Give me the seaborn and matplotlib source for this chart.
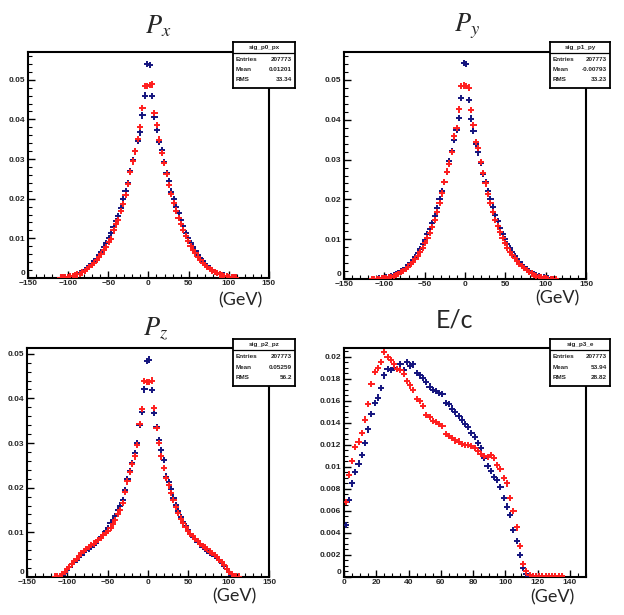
import numpy as np
import pandas as pd
import matplotlib
matplotlib.use("Agg")
import matplotlib.pyplot as plt
import seaborn as sns
from matplotlib.ticker import MultipleLocator, FuncFormatter

# ---- data (normalised histogram contents) ----
# momentum panels: 3 GeV bins, left half ends at -1.5, right half starts at +1.5
px_blue_left = [0.0001, 0.0001, 0.0002, 0.0003, 0.0004, 0.0005, 0.0007, 0.0009, 0.0012, 0.0015,
                0.0019, 0.0024, 0.0029, 0.0035, 0.0042, 0.0049, 0.0057, 0.0066, 0.0077, 0.0088,
                0.0100, 0.0113, 0.0128, 0.0143, 0.0157, 0.0176, 0.0200, 0.0220, 0.0240, 0.0270,
                0.0298, 0.0319, 0.0345, 0.0367, 0.0410, 0.0460, 0.0540]
px_blue_right = [0.0538, 0.0458, 0.0405, 0.0374, 0.0343, 0.0322, 0.0293, 0.0265, 0.0244, 0.0218,
                 0.0198, 0.0178, 0.0164, 0.0146, 0.0130, 0.0114, 0.0101, 0.0089, 0.0078, 0.0068,
                 0.0058, 0.0050, 0.0043, 0.0036, 0.0030, 0.0025, 0.0020, 0.0016, 0.0013, 0.0010,
                 0.0008, 0.0006, 0.0004, 0.0003, 0.0002, 0.0001, 0.0001]
px_red_left = [0.0001, 0.0001, 0.0002, 0.0003, 0.0004, 0.0005, 0.0007, 0.0009, 0.0011, 0.0014,
               0.0018, 0.0022, 0.0027, 0.0032, 0.0038, 0.0045, 0.0052, 0.0060, 0.0070, 0.0079,
               0.0090, 0.0098, 0.0120, 0.0135, 0.0147, 0.0168, 0.0187, 0.0210, 0.0237, 0.0267,
               0.0294, 0.0319, 0.0350, 0.0380, 0.0429, 0.0485, 0.0485]
px_red_right = [0.0487, 0.0488, 0.0416, 0.0385, 0.0349, 0.0315, 0.0290, 0.0262, 0.0235, 0.0212,
                0.0190, 0.0170, 0.0152, 0.0136, 0.0121, 0.0106, 0.0093, 0.0081, 0.0071, 0.0062,
                0.0053, 0.0046, 0.0039, 0.0033, 0.0028, 0.0023, 0.0019, 0.0015, 0.0012, 0.0009,
                0.0007, 0.0005, 0.0004, 0.0003, 0.0002, 0.0001, 0.0001]

py_blue_left = [0.0001, 0.0002, 0.0002, 0.0003, 0.0004, 0.0006, 0.0007, 0.0009, 0.0012, 0.0015,
                0.0019, 0.0023, 0.0028, 0.0034, 0.0041, 0.0048, 0.0056, 0.0065, 0.0076, 0.0087,
                0.0099, 0.0112, 0.0126, 0.0141, 0.0158, 0.0178, 0.0200, 0.0222, 0.0243, 0.0268,
                0.0296, 0.0322, 0.0350, 0.0375, 0.0404, 0.0454, 0.0542]
py_blue_right = [0.0540, 0.0450, 0.0403, 0.0372, 0.0340, 0.0318, 0.0292, 0.0264, 0.0243, 0.0220,
                 0.0200, 0.0180, 0.0162, 0.0145, 0.0128, 0.0113, 0.0100, 0.0088, 0.0077, 0.0067,
                 0.0058, 0.0050, 0.0043, 0.0036, 0.0030, 0.0025, 0.0020, 0.0016, 0.0013, 0.0010,
                 0.0008, 0.0006, 0.0004, 0.0003, 0.0002, 0.0001, 0.0001]
py_red_left = [0.0001, 0.0000, 0.0001, 0.0001, 0.0002, 0.0002, 0.0003, 0.0005, 0.0006, 0.0008,
               0.0010, 0.0013, 0.0017, 0.0021, 0.0026, 0.0031, 0.0037, 0.0044, 0.0051, 0.0059,
               0.0068, 0.0078, 0.0090, 0.0102, 0.0116, 0.0131, 0.0148, 0.0168, 0.0190, 0.0215,
               0.0243, 0.0270, 0.0290, 0.0320, 0.0358, 0.0380, 0.0426, 0.0485, 0.0486]
py_red_right = [0.0484, 0.0481, 0.0424, 0.0386, 0.0345, 0.0330, 0.0293, 0.0266, 0.0240, 0.0213,
                0.0190, 0.0168, 0.0149, 0.0132, 0.0117, 0.0103, 0.0090, 0.0079, 0.0069, 0.0060,
                0.0052, 0.0045, 0.0038, 0.0032, 0.0027, 0.0022, 0.0018, 0.0014, 0.0011, 0.0008,
                0.0006, 0.0004, 0.0003, 0.0002, 0.0001, 0.0001, 0.0000, 0.0000]

pz_blue_left = [0.0001, 0.0004, 0.0010, 0.0016, 0.0022, 0.0028, 0.0034, 0.0039, 0.0044, 0.0050,
                0.0055, 0.0060, 0.0064, 0.0068, 0.0072, 0.0077, 0.0083, 0.0089, 0.0095, 0.0102,
                0.0110, 0.0120, 0.0127, 0.0136, 0.0150, 0.0160, 0.0172, 0.0195, 0.0220, 0.0238,
                0.0256, 0.0278, 0.0300, 0.0340, 0.0370, 0.0420, 0.0483]
pz_blue_right = [0.0487, 0.0418, 0.0368, 0.0335, 0.0307, 0.0285, 0.0262, 0.0225, 0.0213, 0.0196,
                 0.0178, 0.0162, 0.0148, 0.0135, 0.0124, 0.0114, 0.0105, 0.0097, 0.0090, 0.0084,
                 0.0078, 0.0073, 0.0068, 0.0064, 0.0059, 0.0054, 0.0052, 0.0048, 0.0043, 0.0038,
                 0.0031, 0.0025, 0.0018, 0.0011, 0.0005, 0.0001]
pz_red_left = [0.0001, 0.0001, 0.0003, 0.0006, 0.0011, 0.0017, 0.0023, 0.0029, 0.0035, 0.0041,
               0.0047, 0.0053, 0.0058, 0.0063, 0.0067, 0.0071, 0.0075, 0.0079, 0.0083, 0.0088,
               0.0093, 0.0098, 0.0104, 0.0110, 0.0118, 0.0128, 0.0142, 0.0150, 0.0165, 0.0190,
               0.0214, 0.0235, 0.0253, 0.0270, 0.0296, 0.0342, 0.0377, 0.0439, 0.0437]
pz_red_right = [0.0436, 0.0440, 0.0378, 0.0334, 0.0300, 0.0270, 0.0245, 0.0222, 0.0205, 0.0188,
                0.0172, 0.0156, 0.0143, 0.0131, 0.0121, 0.0112, 0.0104, 0.0097, 0.0091, 0.0085,
                0.0080, 0.0075, 0.0070, 0.0066, 0.0062, 0.0057, 0.0053, 0.0049, 0.0044, 0.0039,
                0.0033, 0.0026, 0.0019, 0.0012, 0.0006, 0.0002, 0.0001, 0.0001]

# energy panel: 2 GeV bins starting at 0
e_blue = [0.0047, 0.0070, 0.0085, 0.0095, 0.0103, 0.0111, 0.0122, 0.0134, 0.0148, 0.0158,
          0.0163, 0.0172, 0.0183, 0.0189, 0.0188, 0.0190, 0.0189, 0.0193, 0.0188, 0.0195,
          0.0192, 0.0193, 0.0185, 0.0183, 0.0181, 0.0177, 0.0173, 0.0170, 0.0169, 0.0167,
          0.0166, 0.0158, 0.0157, 0.0153, 0.0150, 0.0146, 0.0143, 0.0139, 0.0136, 0.0131,
          0.0127, 0.0122, 0.0117, 0.0108, 0.0101, 0.0096, 0.0091, 0.0088, 0.0082, 0.0072,
          0.0064, 0.0056, 0.0043, 0.0033, 0.0020, 0.0008, 0.0003, 0.0001, 0.0001, 0.0001,
          0.0001, 0.0001]
e_red = [0.0068, 0.0093, 0.0105, 0.0118, 0.0123, 0.0131, 0.0143, 0.0157, 0.0175, 0.0186,
         0.0190, 0.0195, 0.0204, 0.0200, 0.0197, 0.0193, 0.0189, 0.0188, 0.0184, 0.0178,
         0.0174, 0.0170, 0.0162, 0.0160, 0.0155, 0.0147, 0.0145, 0.0142, 0.0141, 0.0139,
         0.0137, 0.0130, 0.0128, 0.0126, 0.0124, 0.0123, 0.0121, 0.0120, 0.0120, 0.0119,
         0.0117, 0.0114, 0.0112, 0.0110, 0.0109, 0.0111, 0.0108, 0.0102, 0.0098, 0.0090,
         0.0085, 0.0072, 0.0060, 0.0045, 0.0028, 0.0012, 0.0005, 0.0002, 0.0001, 0.0001,
         0.0001, 0.0001, 0.0001, 0.0001, 0.0001, 0.0001, 0.0001, 0.0001]

titles = [r"$P_x$", r"$P_y$", r"$P_z$", "E/c"]
stat_names = ["sig_p0_px", "sig_p1_py", "sig_p2_pz", "sig_p3_e"]
stat_entries = ["207773", "207773", "207773", "207773"]
stat_means = ["0.01201", "-0.00793", "0.05259", "53.94"]
stat_rms = ["33.34", "33.23", "56.2", "28.82"]

BLUE = "#14147e"
RED = "#ff1e1e"


def sym_frame(left, right, width=3.0):
    xl = -width / 2 - width * np.arange(len(left))[::-1]
    xr = width / 2 + width * np.arange(len(right))
    return np.concatenate([xl, xr]), np.array(left + right)


def make_df(blue, red):
    rows = []
    for name, (x, y) in (("blue", blue), ("red", red)):
        rows.append(pd.DataFrame({"x": x, "y": y, "s": name}))
    return pd.concat(rows, ignore_index=True)


e_x_blue = 1.0 + 2.0 * np.arange(len(e_blue))
e_x_red = 1.0 + 2.0 * np.arange(len(e_red))

panels = [
    make_df(sym_frame(px_blue_left, px_blue_right), sym_frame(px_red_left, px_red_right)),
    make_df(sym_frame(py_blue_left, py_blue_right), sym_frame(py_red_left, py_red_right)),
    make_df(sym_frame(pz_blue_left, pz_blue_right), sym_frame(pz_red_left, pz_red_right)),
    make_df((e_x_blue, np.array(e_blue)), (e_x_red, np.array(e_red))),
]

sns.set_style("white")
plt.rcParams["mathtext.fontset"] = "stix"

fig = plt.figure(figsize=(6.24, 6.15), dpi=100)

ax_rects = [
    [0.0449, 0.548, 0.386, 0.3675],
    [0.5513, 0.5463, 0.3878, 0.369],
    [0.0433, 0.0618, 0.388, 0.3724],
    [0.5513, 0.0618, 0.3878, 0.3724],
]
box_rects = [
    [0.3734, 0.8569, 0.0994, 0.0748],
    [0.8814, 0.8569, 0.0962, 0.0748],
    [0.3734, 0.3724, 0.0994, 0.0764],
    [0.8814, 0.3724, 0.0962, 0.0764],
]
title_pos = [(0.253, 0.957), (0.748, 0.957), (0.250, 0.466), (0.729, 0.479)]
gev_pos = [(0.386, 0.512), (0.893, 0.515), (0.375, 0.031), (0.886, 0.029)]


def ylab(v, pos):
    # the "0" of the y axis is written separately, lifted above the x labels
    if abs(v) < 1e-9:
        return ""
    return f"{v:g}"


tick_font = dict(fontsize=6, fontweight="bold", family="Liberation Sans")

for i, df in enumerate(panels):
    ax = fig.add_axes(ax_rects[i])
    sns.scatterplot(data=df, x="x", y="y", hue="s", palette={"blue": BLUE, "red": RED},
                    marker="+", s=20, linewidth=1.4, legend=False, ax=ax, zorder=3)
    if i < 3:
        ax.set_xlim(-150, 150)
        ax.xaxis.set_major_locator(MultipleLocator(50))
        ax.xaxis.set_minor_locator(MultipleLocator(10))
        ax.yaxis.set_major_locator(MultipleLocator(0.01))
        ax.yaxis.set_minor_locator(MultipleLocator(0.002))
        ax.set_ylim(0, 0.057 if i < 2 else 0.0513)
    else:
        ax.set_xlim(0, 150)
        ax.xaxis.set_major_locator(MultipleLocator(20))
        ax.xaxis.set_minor_locator(MultipleLocator(5))
        ax.yaxis.set_major_locator(MultipleLocator(0.002))
        ax.yaxis.set_minor_locator(MultipleLocator(0.0005))
        ax.set_ylim(0, 0.0208)
    ax.yaxis.set_major_formatter(FuncFormatter(ylab))
    ax.set_xlabel("")
    ax.set_ylabel("")
    for sp in ax.spines.values():
        sp.set_visible(True)
        sp.set_color("black")
        sp.set_linewidth(1.5)
    ax.tick_params(which="major", direction="in", length=5, width=1.0, color="black",
                   labelsize=6, pad=2)
    ax.tick_params(which="minor", direction="in", length=3, width=0.8, color="black")
    ax.tick_params(axis="x", which="both", top=False, bottom=True)
    ax.tick_params(axis="y", which="both", left=True, right=False)
    ax.tick_params(axis="x", which="major", pad=1.5)
    for lab in ax.get_xticklabels() + ax.get_yticklabels():
        lab.set_fontweight("bold")
        lab.set_fontfamily("Liberation Sans")
    ax.annotate("0", xy=(0, 0), xycoords="axes fraction", xytext=(-2, 1),
                textcoords="offset points", ha="right", va="bottom", **tick_font)

    # stat box
    bx = fig.add_axes(box_rects[i])
    bx.set_xlim(0, 1)
    bx.set_ylim(0, 1)
    bx.set_xticks([])
    bx.set_yticks([])
    bx.set_facecolor("white")
    bx.set_zorder(5)
    for sp in bx.spines.values():
        sp.set_visible(True)
        sp.set_color("black")
        sp.set_linewidth(1.3)
    bx.axhline(0.76, color="black", lw=0.9)
    fs = 4.6
    bx.text(0.5, 0.88, stat_names[i], ha="center", va="center", fontsize=fs,
            fontweight="bold", family="Liberation Sans")
    rows = [("Entries", stat_entries[i]), ("Mean", stat_means[i]), ("RMS", stat_rms[i])]
    for k, (lbl, val) in enumerate(rows):
        yy = 0.62 - k * 0.22
        bx.text(0.05, yy, lbl, ha="left", va="center", fontsize=fs, fontweight="bold",
                family="Liberation Sans")
        bx.text(0.95, yy, val, ha="right", va="center", fontsize=fs, fontweight="bold",
                family="Liberation Sans")

    tx, ty = title_pos[i]
    if i < 3:
        fig.text(tx, ty, titles[i], ha="center", va="center", fontsize=19)
    else:
        fig.text(tx, ty, titles[i], ha="center", va="center", fontsize=18, family="Lato")
    gx, gy = gev_pos[i]
    fig.text(gx, gy, "(GeV)", ha="center", va="center", fontsize=13, family="Lato")

fig.savefig("out.png", dpi=100)
